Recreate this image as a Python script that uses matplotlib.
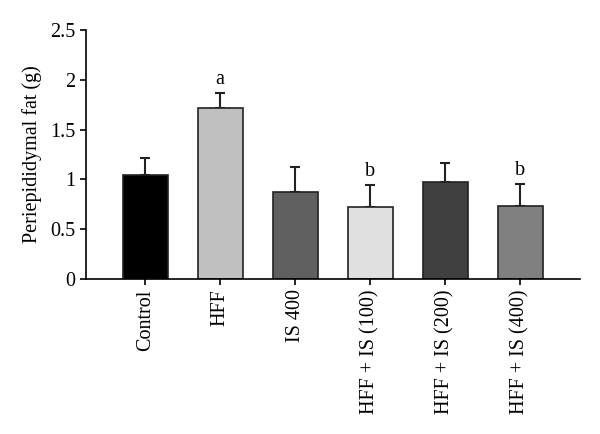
import numpy as np
import matplotlib.pyplot as plt

plt.rcParams['font.family'] = ['Liberation Serif', 'DejaVu Serif']

# data
groups = ['Control', 'HFF', 'IS 400', 'HFF + IS (100)', 'HFF + IS (200)', 'HFF + IS (400)']
fat_mean = [1.04, 1.72, 0.87, 0.72, 0.97, 0.73]
fat_sd = [0.17, 0.15, 0.25, 0.22, 0.19, 0.22]
letters = ['', 'a', '', 'b', '', 'b']
bar_colors = ['#000000', '#c0c0c0', '#606060', '#e0e0e0', '#404040', '#808080']

fig = plt.figure(figsize=(6, 4.34), dpi=100)
ax = fig.add_axes([0.1433, 0.357, 0.8234, 0.574])

x = np.arange(len(groups))
ax.bar(x, fat_mean, width=0.6, color=bar_colors, edgecolor='#222222', linewidth=1.2, zorder=2)
ax.errorbar(x, fat_mean, yerr=[np.zeros(len(fat_sd)), fat_sd], fmt='none',
            ecolor='#222222', elinewidth=1.5, capsize=3.5, capthick=1.5, zorder=1)

for xi, m, s, lab in zip(x, fat_mean, fat_sd, letters):
    if lab:
        ax.text(xi, m + s + 0.04, lab, ha='center', va='bottom', fontsize=14.5)

ax.set_xlim(-0.79, 5.8)
ax.set_ylim(0, 2.5)
ax.set_yticks([0, 0.5, 1, 1.5, 2, 2.5])
ax.set_yticklabels(['0', '0.5', '1', '1.5', '2', '2.5'])
ax.set_xticks(x)
ax.set_xticklabels(groups, rotation=90)
ax.set_ylabel('Periepididymal fat (g)', fontsize=14.5, labelpad=6)

ax.spines['top'].set_visible(False)
ax.spines['right'].set_visible(False)
ax.spines['left'].set_linewidth(1.2)
ax.spines['bottom'].set_linewidth(1.2)
ax.tick_params(axis='both', labelsize=14.5, direction='out', length=4, width=1.2)

fig.savefig('out.png', dpi=100)
